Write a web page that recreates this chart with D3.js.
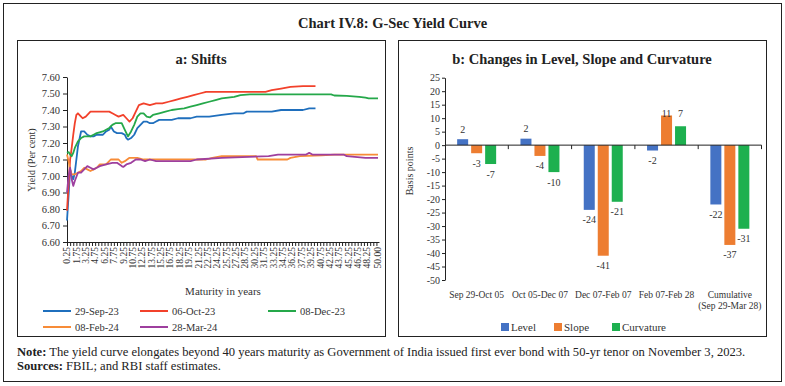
<!DOCTYPE html>
<html>
<head>
<meta charset="utf-8">
<script src="https://cdn.jsdelivr.net/npm/d3@7"></script>
<style>
  body { margin: 0; background: #fff; }
  svg { font-family: "Liberation Serif", serif; }
  .axis path, .axis line { stroke: #222; }
  .axis text { fill: #333; font-family: "Liberation Serif", serif; }
</style>
</head>
<body>
<svg width="785" height="386"></svg>
<script>
// ---- panel a: yield curves, [maturity in years, yield per cent]
var maturities = d3.range(1, 201).map(function(i) { return i * 0.25; });
var xTickLabels = ["0.25","1.75","3.25","4.75","6.25","7.75","9.25","10.75","12.25","13.75","15.25","16.75",
  "18.25","19.75","21.25","22.75","24.25","25.75","27.25","28.75","30.25","31.75","33.25","34.75","36.25",
  "37.75","39.25","40.75","42.25","43.75","45.25","46.75","48.25","50.00"];
var yTicks = [6.6, 6.7, 6.8, 6.9, 7.0, 7.1, 7.2, 7.3, 7.4, 7.5, 7.6];

var sep29 = [[0.25,6.73],[0.5,6.88],[0.75,7.04],[1.0,7.00],[1.25,6.98],[1.5,7.02],[1.75,7.10],[2.0,7.18],
  [2.5,7.27],[3.0,7.27],[3.5,7.25],[4.0,7.24],[4.5,7.24],[5.0,7.25],[6.0,7.25],[6.5,7.27],[7.0,7.28],
  [7.25,7.30],[7.75,7.27],[8.25,7.26],[9.0,7.26],[9.5,7.25],[9.75,7.23],[10.0,7.22],[10.5,7.23],[11.0,7.25],
  [11.5,7.29],[12.0,7.31],[12.5,7.33],[13.0,7.33],[13.5,7.32],[14.0,7.32],[14.5,7.33],[15.0,7.34],[17.0,7.34],
  [18.0,7.35],[20.0,7.35],[21.0,7.36],[23.0,7.36],[25.0,7.37],[27.0,7.38],[28.5,7.38],[29.0,7.39],[33.0,7.39],
  [34.5,7.40],[38.0,7.40],[39.0,7.41],[40.0,7.41]];
var oct06 = [[0.25,6.79],[0.5,6.95],[0.75,7.10],[1.0,7.17],[1.25,7.25],[1.5,7.32],[1.75,7.37],[2.0,7.38],
  [2.5,7.36],[2.75,7.35],[3.25,7.36],[4.0,7.39],[7.0,7.39],[7.5,7.38],[8.0,7.37],[8.5,7.36],[9.25,7.37],
  [9.75,7.35],[10.25,7.33],[10.75,7.35],[11.25,7.39],[11.75,7.43],[12.5,7.44],[13.5,7.43],[14.5,7.44],
  [15.5,7.44],[16.5,7.45],[17.5,7.46],[18.5,7.47],[19.5,7.48],[20.5,7.49],[21.5,7.50],[22.5,7.51],[32.0,7.51],
  [33.0,7.52],[34.5,7.53],[36.0,7.54],[38.0,7.545],[40.0,7.545]];
var dec08 = [[0.25,7.14],[0.5,7.145],[0.75,7.13],[1.0,7.12],[1.25,7.14],[1.5,7.17],[2.0,7.21],[2.5,7.23],
  [3.0,7.24],[4.0,7.24],[4.5,7.25],[5.0,7.26],[6.0,7.27],[6.5,7.28],[7.0,7.29],[7.5,7.31],[8.0,7.32],[9.0,7.32],
  [9.5,7.28],[10.0,7.24],[10.5,7.27],[11.0,7.31],[11.5,7.36],[12.0,7.38],[12.5,7.38],[13.0,7.36],[13.5,7.355],
  [14.0,7.37],[15.0,7.38],[16.0,7.39],[17.0,7.40],[18.0,7.405],[19.0,7.41],[20.0,7.42],[21.0,7.43],[22.0,7.44],
  [23.0,7.45],[24.0,7.46],[25.0,7.47],[26.0,7.475],[27.0,7.48],[28.0,7.49],[29.5,7.495],[42.5,7.495],
  [43.0,7.488],[45.0,7.485],[47.0,7.48],[48.0,7.475],[48.5,7.47],[50.0,7.47]];
var feb08 = [[0.25,7.13],[0.5,7.09],[0.75,7.04],[1.0,7.01],[1.5,7.01],[2.0,7.02],[2.5,7.03],[3.0,7.05],
  [3.5,7.04],[4.0,7.03],[4.5,7.04],[5.0,7.05],[5.5,7.07],[6.5,7.07],[7.25,7.10],[8.5,7.10],[9.0,7.08],
  [9.5,7.09],[10.25,7.11],[11.5,7.11],[12.5,7.10],[22.5,7.10],[23.5,7.11],[25.0,7.12],[30.5,7.12],
  [30.75,7.10],[35.5,7.10],[36.0,7.11],[37.5,7.12],[41.0,7.125],[43.0,7.13],[50.0,7.13]];
var mar28 = [[0.25,6.90],[0.5,7.00],[0.75,7.05],[1.0,6.98],[1.25,6.94],[1.5,6.97],[2.0,7.02],[2.5,7.02],
  [3.0,7.04],[3.5,7.06],[4.0,7.05],[4.5,7.04],[5.0,7.05],[5.5,7.06],[6.5,7.07],[7.5,7.08],[8.25,7.08],
  [9.0,7.06],[9.25,7.055],[9.75,7.07],[10.5,7.08],[11.25,7.10],[12.0,7.10],[12.75,7.09],[13.5,7.10],
  [14.5,7.09],[20.0,7.09],[21.0,7.10],[25.0,7.11],[32.5,7.12],[34.0,7.13],[38.5,7.13],[39.0,7.14],
  [39.5,7.13],[44.5,7.13],[45.0,7.12],[48.0,7.11],[50.0,7.11]];

var curveNames = ["29-Sep-23", "06-Oct-23", "08-Dec-23", "08-Feb-24", "28-Mar-24"];
var curveData = [sep29, oct06, dec08, feb08, mar28];
var curveColors = ["#1f6fbd", "#f2412b", "#25a84a", "#f78c38", "#9e3f9e"];

// ---- panel b: changes in basis points
var periods = ["Sep 29-Oct 05", "Oct 05-Dec 07", "Dec 07-Feb 07", "Feb 07-Feb 28", "Cumulative\n(Sep 29-Mar 28)"];
var factors = ["Level", "Slope", "Curvature"];
var level = [2.2, 2.4, -24, -2, -22];
var slope = [-3, -4, -41, 11, -37];
var curvature = [-7, -10, -21, 7, -31];
var barColors = ["#4472c4", "#ed7d31", "#1db04f"];
var bpTicks = d3.range(-50, 26, 5);

var svg = d3.select("svg");

// frames and titles
svg.append("rect").attr("x", 3.5).attr("y", 3.5).attr("width", 778).attr("height", 378)
  .attr("fill", "none").attr("stroke", "#222").attr("stroke-width", 1);
svg.append("rect").attr("x", 17.5).attr("y", 40.5).attr("width", 368).attr("height", 296)
  .attr("fill", "none").attr("stroke", "#222").attr("stroke-width", 1);
svg.append("rect").attr("x", 398.5).attr("y", 40.5).attr("width", 368).attr("height", 296)
  .attr("fill", "none").attr("stroke", "#222").attr("stroke-width", 1);

svg.append("text").attr("x", 392.5).attr("y", 28).attr("text-anchor", "middle")
  .style("font-size", "14.5px").style("font-weight", "bold").attr("fill", "#222")
  .text("Chart IV.8: G-Sec Yield Curve");
svg.append("text").attr("x", 201).attr("y", 64).attr("text-anchor", "middle")
  .style("font-size", "14.5px").style("font-weight", "bold").attr("fill", "#222")
  .text("a: Shifts");
svg.append("text").attr("x", 582).attr("y", 64).attr("text-anchor", "middle")
  .style("font-size", "14.5px").style("font-weight", "bold").attr("fill", "#222")
  .text("b: Changes in Level, Slope and Curvature");

// ---------------- panel a
var x = d3.scalePoint().domain(maturities).range([67, 378]);
var y = d3.scaleLinear().domain([6.6, 7.6]).range([242, 77]);

svg.append("g").attr("class", "axis")
  .attr("transform", "translate(67,0)")
  .call(d3.axisLeft(y).tickValues(yTicks).tickSize(4).tickSizeOuter(0).tickPadding(3)
    .tickFormat(d3.format(".2f")))
  .selectAll("text").style("font-size", "10.5px");

var gx = svg.append("g").attr("class", "axis")
  .attr("transform", "translate(0,242)")
  .call(d3.axisBottom(x).tickValues(maturities.filter(function(d, i) { return i % 2 === 0; }))
    .tickSize(4).tickSizeOuter(0).tickFormat(""));
gx.select(".domain").attr("d", "M67,0.5H379.5");

svg.append("g").selectAll("text")
  .data(xTickLabels)
  .enter().append("text")
  .attr("transform", function(d) { return "translate(" + x(+d) + ",247) rotate(-90)"; })
  .attr("text-anchor", "end").attr("dy", "0.35em")
  .style("font-size", "9.5px").attr("fill", "#333")
  .text(function(d) { return d; });

svg.append("text").attr("transform", "translate(31,160) rotate(-90)")
  .attr("text-anchor", "middle").attr("dy", "0.35em")
  .style("font-size", "10px").attr("fill", "#333").text("Yield (Per cent)");
svg.append("text").attr("x", 223).attr("y", 295).attr("text-anchor", "middle")
  .style("font-size", "11px").attr("fill", "#333").text("Maturity in years");

var line = d3.line()
  .x(function(d) { return x(d[0]); })
  .y(function(d) { return y(d[1]); });

svg.append("g").selectAll("path")
  .data(curveData)
  .enter().append("path")
  .attr("d", line)
  .attr("fill", "none")
  .attr("stroke", function(d, i) { return curveColors[i]; })
  .attr("stroke-width", 1.8)
  .attr("stroke-linejoin", "round");

// legend a
var legPos = [[43, 311], [140, 311], [268, 311], [43, 327], [140, 327]];
var legA = svg.append("g").selectAll("g")
  .data(curveNames)
  .enter().append("g")
  .attr("transform", function(d, i) { return "translate(" + legPos[i][0] + "," + legPos[i][1] + ")"; });
legA.append("line").attr("x1", 0).attr("x2", 28)
  .attr("stroke", function(d, i) { return curveColors[i]; }).attr("stroke-width", 2);
legA.append("text").attr("x", 32).attr("dy", "0.35em")
  .style("font-size", "10.5px").attr("fill", "#333").text(function(d) { return d; });

// ---------------- panel b
var x0 = d3.scaleBand().domain(periods).range([445, 761.5]).padding(0);
var x1 = d3.scaleBand().domain(factors)
  .range([(x0.bandwidth() - 39) / 2, (x0.bandwidth() + 39) / 2]).paddingInner(0.214);
var yb = d3.scaleLinear().domain([-50, 25]).range([280, 77.7]);

svg.append("g").attr("class", "axis")
  .attr("transform", "translate(445,0)")
  .call(d3.axisLeft(yb).tickValues(bpTicks).tickSize(3).tickSizeOuter(0).tickPadding(2)
    .tickFormat(function(d) { return String(d); }))
  .selectAll("text").style("font-size", "10px");

var rows = periods.map(function(p, i) {
  return { period: p, values: [level[i], slope[i], curvature[i]] };
});

var groups = svg.append("g").selectAll("g")
  .data(rows)
  .enter().append("g")
  .attr("transform", function(d) { return "translate(" + x0(d.period) + ",0)"; });

groups.selectAll("rect")
  .data(function(d) { return d.values.map(function(v, j) { return { f: factors[j], v: v, j: j }; }); })
  .enter().append("rect")
  .attr("x", function(d) { return x1(d.f); })
  .attr("width", x1.bandwidth())
  .attr("y", function(d) { return yb(Math.max(0, d.v)); })
  .attr("height", function(d) { return Math.abs(yb(d.v) - yb(0)); })
  .attr("fill", function(d) { return barColors[d.j]; });

// positive labels sit above the bar; the two in Feb 07-Feb 28 share one height as in the source
groups.selectAll("text")
  .data(function(d) { return d.values.map(function(v, j) { return { f: factors[j], v: v, top: d3.max(d.values) }; }); })
  .enter().append("text")
  .attr("x", function(d) { return x1(d.f) + x1.bandwidth() / 2; })
  .attr("y", function(d) {
    if (d.v < 0) return yb(d.v) + 10;
    return d.top > 5 ? yb(d.top) - 2 : yb(d.v) - 10;
  })
  .attr("dy", "0.35em").attr("text-anchor", "middle")
  .style("font-size", "10px").attr("fill", "#333")
  .text(function(d) { return String(Math.round(d.v)); });

// zero line with tick marks at category boundaries
var gxb = svg.append("g").attr("class", "axis").attr("transform", "translate(0," + yb(0) + ")");
gxb.append("line").attr("x1", 445).attr("x2", 761.5).attr("stroke", "#222");
gxb.selectAll(".tk")
  .data(periods)
  .enter().append("line").attr("class", "tk")
  .attr("x1", function(d) { return x0(d) + x0.bandwidth(); })
  .attr("x2", function(d) { return x0(d) + x0.bandwidth(); })
  .attr("y1", 0).attr("y2", 4).attr("stroke", "#222");

// category labels (second line for the cumulative one)
var catLab = svg.append("g").selectAll("text")
  .data(periods)
  .enter().append("text")
  .attr("x", function(d) { return x0(d) + x0.bandwidth() / 2; })
  .attr("y", 298).attr("dy", "0.35em").attr("text-anchor", "middle")
  .style("font-size", "9.5px").attr("fill", "#333");
catLab.selectAll("tspan")
  .data(function(d) { return d.split("\n"); })
  .enter().append("tspan")
  .attr("x", function() { var p = this.parentNode.__data__; return x0(p) + x0.bandwidth() / 2; })
  .attr("dy", function(d, i) { return i === 0 ? 0 : "1.15em"; })
  .text(function(d) { return d; });

svg.append("text").attr("transform", "translate(409,171) rotate(-90)")
  .attr("text-anchor", "middle").attr("dy", "0.35em")
  .style("font-size", "10px").attr("fill", "#333").text("Basis points");

// legend b
var legBx = [501, 554, 612];
var legB = svg.append("g").selectAll("g")
  .data(factors)
  .enter().append("g")
  .attr("transform", function(d, i) { return "translate(" + legBx[i] + ",327)"; });
legB.append("rect").attr("x", 0).attr("y", -4).attr("width", 8).attr("height", 8)
  .attr("fill", function(d, i) { return barColors[i]; });
legB.append("text").attr("x", 10).attr("dy", "0.35em")
  .style("font-size", "11px").attr("fill", "#333").text(function(d) { return d; });

// notes
var note = svg.append("text").attr("x", 17).attr("y", 356).style("font-size", "12.6px").attr("fill", "#222");
note.append("tspan").style("font-weight", "bold").text("Note:");
note.append("tspan").text(" The yield curve elongates beyond 40 years maturity as Government of India issued first ever bond with 50-yr tenor on November 3, 2023.");
var src = svg.append("text").attr("x", 17).attr("y", 370).style("font-size", "12.6px").attr("fill", "#222");
src.append("tspan").style("font-weight", "bold").text("Sources:");
src.append("tspan").text(" FBIL; and RBI staff estimates.");
</script>
</body>
</html>
